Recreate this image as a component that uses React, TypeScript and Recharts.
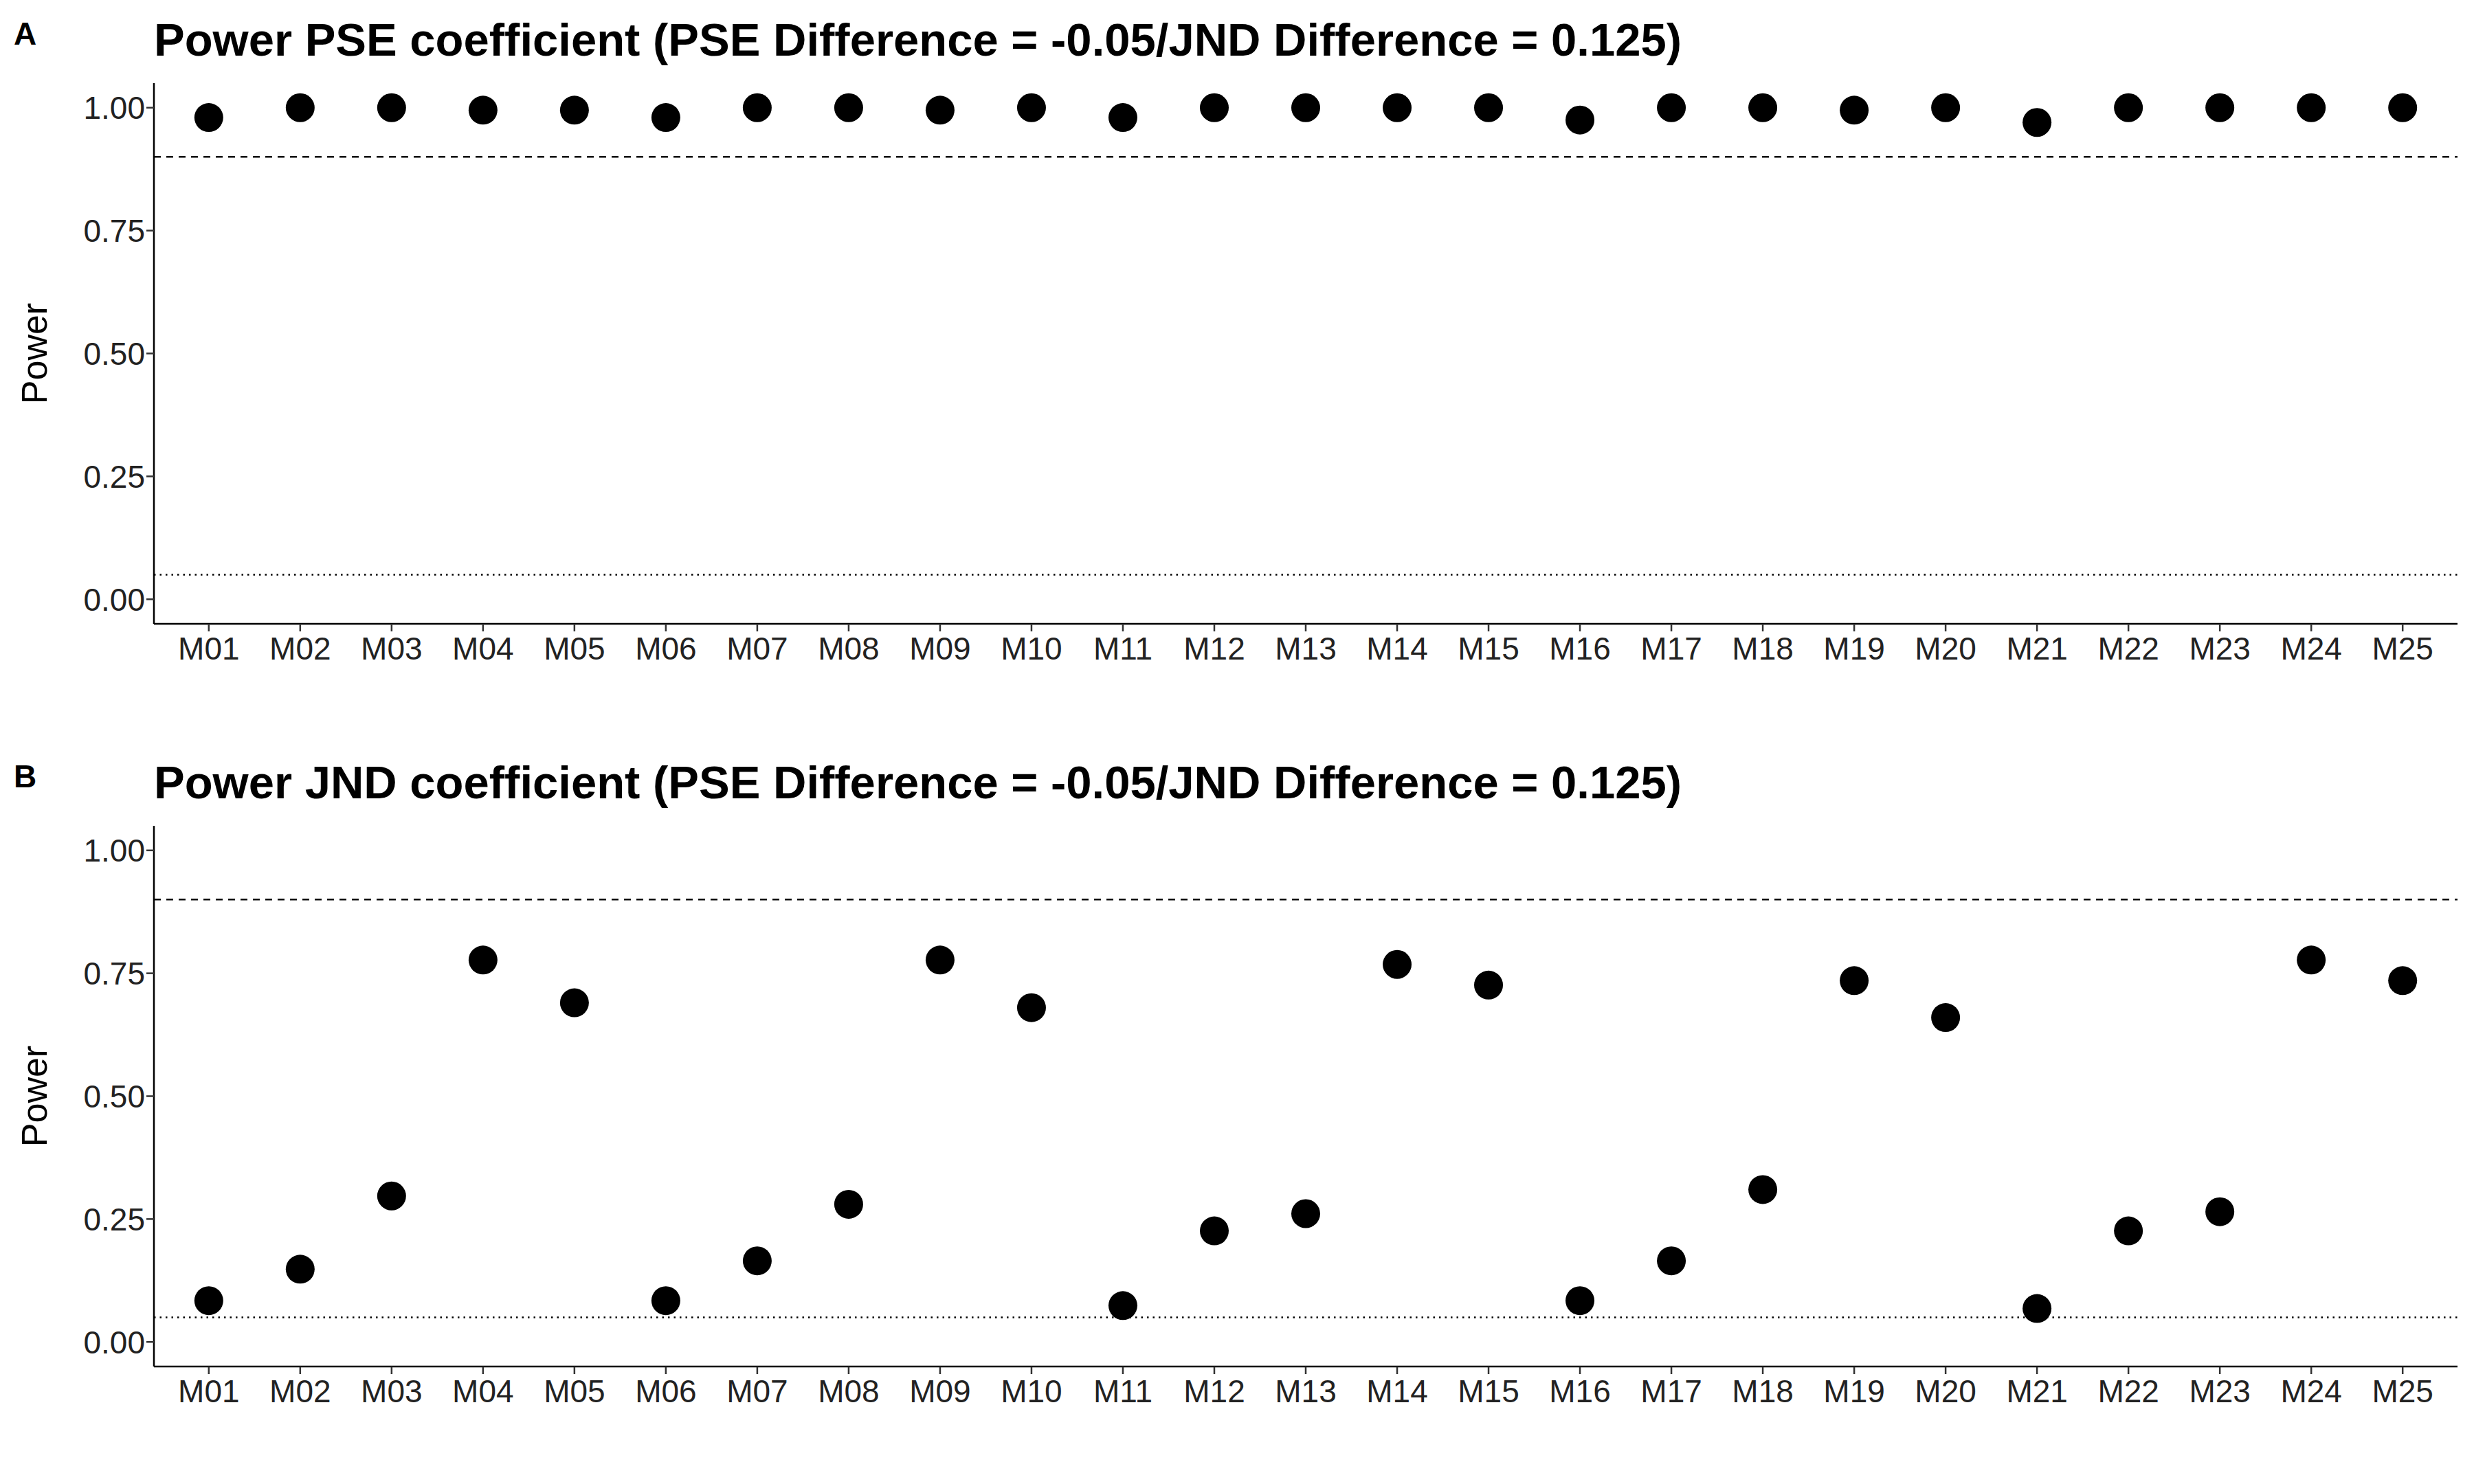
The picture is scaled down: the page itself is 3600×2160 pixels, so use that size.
import React from "react";
import { ScatterChart, Scatter, XAxis, YAxis, ReferenceLine, Label } from "recharts";

const models = ["M01","M02","M03","M04","M05","M06","M07","M08","M09","M10","M11","M12","M13","M14","M15","M16","M17","M18","M19","M20","M21","M22","M23","M24","M25"];
const psePower = [0.98,1,1,0.995,0.995,0.98,1,1,0.995,1,0.98,1,1,1,1,0.975,1,1,0.995,1,0.97,1,1,1,1];
const jndPower = [0.084,0.148,0.297,0.777,0.69,0.084,0.165,0.28,0.777,0.68,0.074,0.226,0.261,0.768,0.726,0.084,0.165,0.31,0.735,0.66,0.068,0.226,0.265,0.777,0.735];
const yTicks = [0, 0.25, 0.5, 0.75, 1];
const xTicks = models.map((_, i) => i + 1);

const FONT = "'Liberation Sans', Arial, sans-serif";

function Panel({ values, top, title, letter }: { values: number[]; top: number; title: string; letter: string }) {
  const data = values.map((v, i) => ({ x: i + 1, y: v }));
  const tick = { fontSize: 46, fill: "#222", fontFamily: FONT };
  return (
    <div style={{ position: "absolute", left: 0, top, width: 3600, height: 1074 }}>
      <div style={{ position: "absolute", left: 20, top: 22, fontFamily: FONT, fontWeight: "bold", fontSize: 46 }}>{letter}</div>
      <div style={{ position: "absolute", left: 224, top: 20, fontFamily: FONT, fontWeight: "bold", fontSize: 67, lineHeight: "76px", whiteSpace: "nowrap" }}>{title}</div>
      <ScatterChart width={3600} height={1074} margin={{ top: 121, right: 24, bottom: 86, left: 0 }}>
        <XAxis type="number" dataKey="x" domain={[0.4, 25.6]} ticks={xTicks} interval={0} allowDataOverflow
          tickFormatter={(v: number) => models[v - 1]} tick={{ ...tick, dy: 6 }} height={80}
          axisLine={{ stroke: "#000", strokeWidth: 2.5 }} tickLine={{ stroke: "#333", strokeWidth: 2.5 }} tickSize={11} />
        <YAxis type="number" dataKey="y" domain={[-0.05, 1.05]} ticks={yTicks} allowDataOverflow
          tickFormatter={(v: number) => v.toFixed(2)} tick={tick} width={224}
          axisLine={{ stroke: "#000", strokeWidth: 2.5 }} tickLine={{ stroke: "#333", strokeWidth: 2.5 }} tickSize={11}>
          <Label value="Power" angle={-90} position="insideLeft" offset={50} style={{ fontSize: 52, fill: "#000", fontFamily: FONT, textAnchor: "middle" }} />
        </YAxis>
        <ReferenceLine y={0.9} stroke="#000" strokeWidth={2.5} strokeDasharray="10 8" />
        <ReferenceLine y={0.05} stroke="#000" strokeWidth={2.5} strokeDasharray="2.5 6" />
        <Scatter data={data} fill="#000" isAnimationActive={false}
          shape={(p: any) => <circle cx={p.cx} cy={p.cy} r={21} fill="#000" />} />
      </ScatterChart>
    </div>
  );
}

export default function App() {
  return (
    <div style={{ position: "absolute", left: 0, top: 0, width: 3600, height: 2160, background: "#fff" }}>
      <Panel values={psePower} top={0} letter="A" title="Power PSE coefficient (PSE Difference = -0.05/JND Difference = 0.125)" />
      <Panel values={jndPower} top={1081} letter="B" title="Power JND coefficient (PSE Difference = -0.05/JND Difference = 0.125)" />
    </div>
  );
}
